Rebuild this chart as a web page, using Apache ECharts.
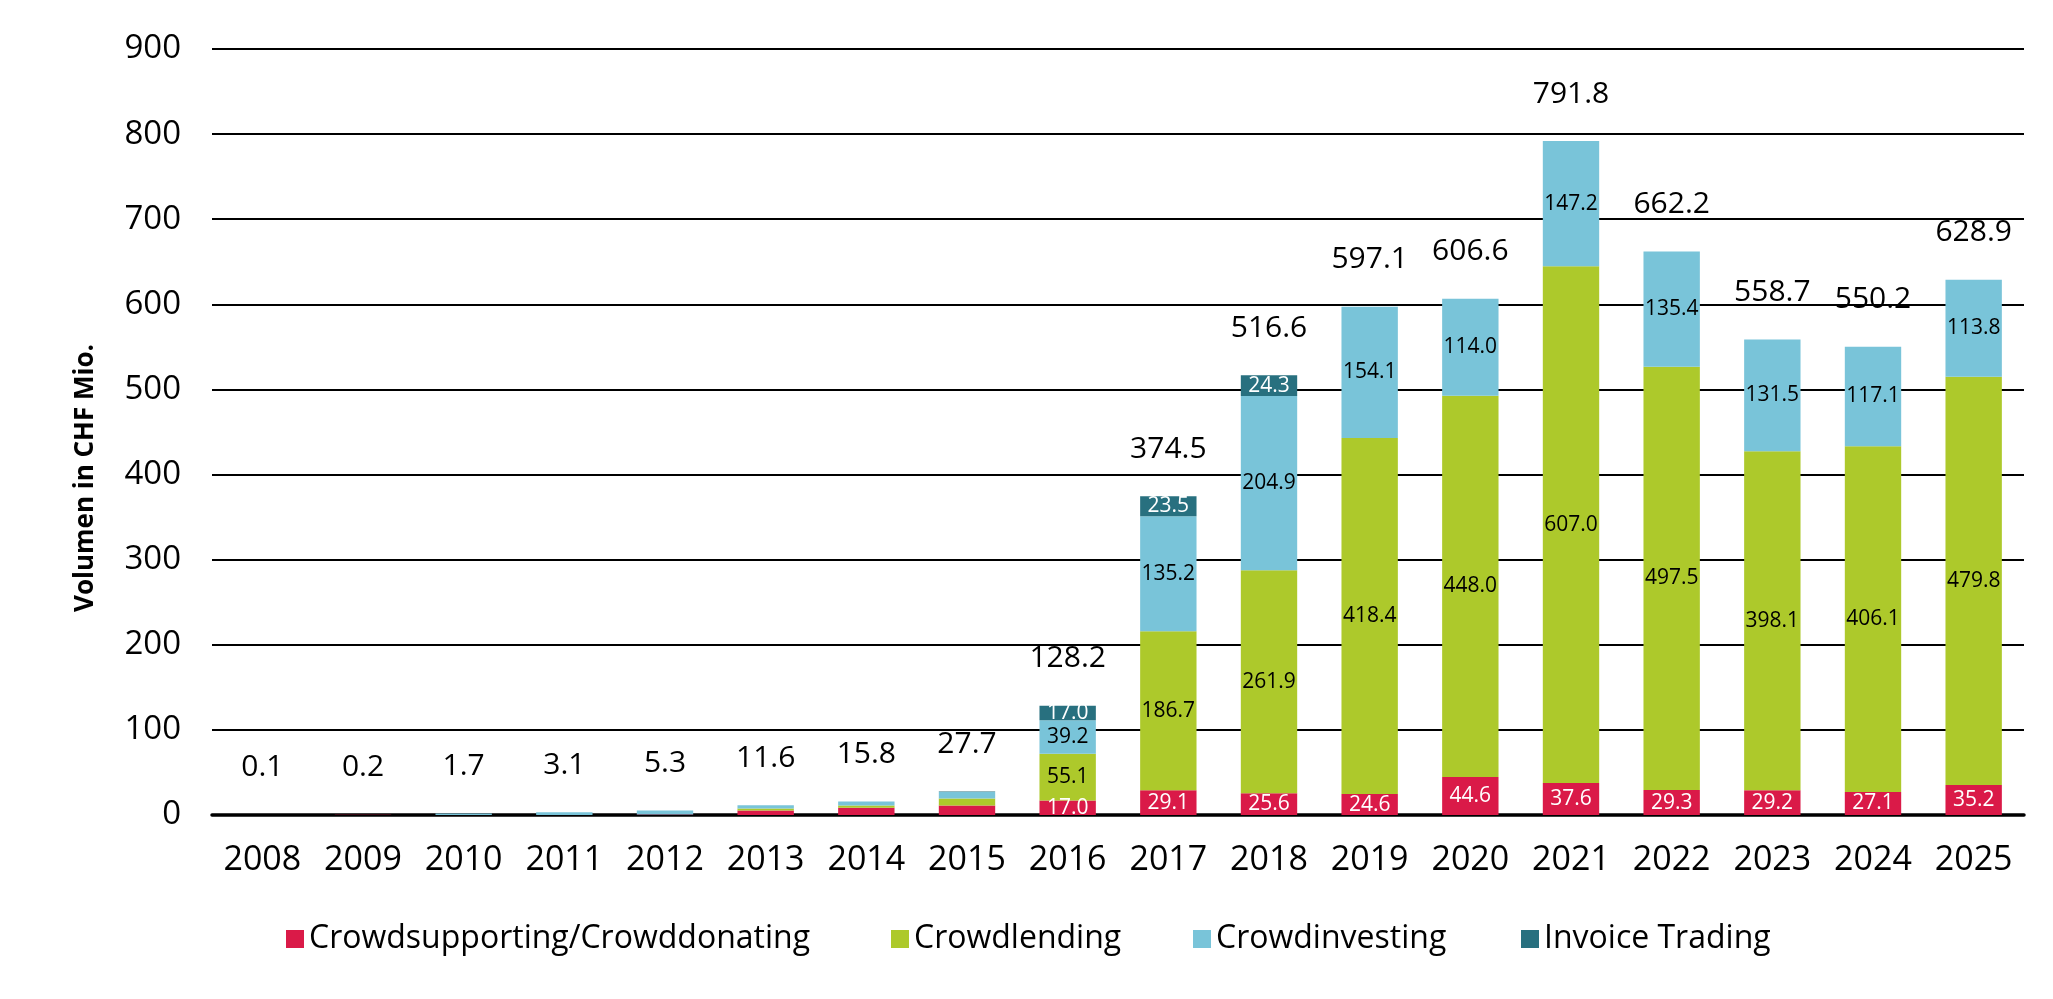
<!DOCTYPE html>
<html>
<head>
<meta charset="utf-8">
<script src="https://cdn.jsdelivr.net/npm/echarts@6/dist/echarts.min.js"></script>
<style>
html,body{margin:0;padding:0;background:#fff;}
#chart{width:2053px;height:999px;}
</style>
</head>
<body>
<div id="chart"></div>
<script>
const years = ['2008','2009','2010','2011','2012','2013','2014','2015','2016','2017','2018','2019','2020','2021','2022','2023','2024','2025'];
const crowdsupporting = [0.1, 0.2, 0, 0, 0.5, 5.2, 8.4, 11.2, 17.0, 29.1, 25.6, 24.6, 44.6, 37.6, 29.3, 29.2, 27.1, 35.2];
const crowdlending    = [0, 0, 0, 0, 0, 2.4, 2.8, 8.2, 55.1, 186.7, 261.9, 418.4, 448.0, 607.0, 497.5, 398.1, 406.1, 479.8];
const crowdinvesting  = [0, 0, 1.7, 3.1, 4.8, 4.0, 4.6, 7.6, 39.2, 135.2, 204.9, 154.1, 114.0, 147.2, 135.4, 131.5, 117.1, 113.8];
const invoiceTrading  = [0, 0, 0, 0, 0, 0, 0, 0.7, 17.0, 23.5, 24.3, 0, 0, 0, 0, 0, 0, 0];
const totals = [0.1, 0.2, 1.7, 3.1, 5.3, 11.6, 15.8, 27.7, 128.2, 374.5, 516.6, 597.1, 606.6, 791.8, 662.2, 558.7, 550.2, 628.9];
const seriesNames = ['Crowdsupporting/Crowddonating', 'Crowdlending', 'Crowdinvesting', 'Invoice Trading'];
const colors = ['#DA1A48', '#ADC92B', '#79C4D9', '#28707F'];
const labelColors = ['#fff', '#000', '#000', '#fff'];
const yTicks = [0, 100, 200, 300, 400, 500, 600, 700, 800, 900];
const yTitle = 'Volumen in CHF Mio.';

const FONT = 'Open Sans';
const chart = echarts.init(document.getElementById('chart'));
const seriesData = [crowdsupporting, crowdlending, crowdinvesting, invoiceTrading];

const series = seriesData.map((d, i) => ({
  name: seriesNames[i],
  type: 'bar',
  stack: 'total',
  barWidth: '56%',
  data: d,
  itemStyle: { color: colors[i] },
  label: {
    show: true,
    position: 'inside',
    color: labelColors[i],
    fontFamily: FONT,
    fontSize: 21,
    formatter: p => (p.value >= 15 ? p.value.toFixed(1) : '')
  },
  z: 3
}));
series.push({
  name: 'Total',
  type: 'bar',
  barWidth: '56%',
  barGap: '-100%',
  data: totals,
  itemStyle: { color: 'rgba(0,0,0,0)' },
  label: {
    show: true,
    position: 'top',
    distance: 32,
    color: '#000',
    fontFamily: FONT,
    fontSize: 30,
    formatter: p => p.value.toFixed(1)
  },
  silent: true,
  z: 2
});

const legendLefts = [281, 886, 1188, 1516];
const legends = seriesNames.map((n, i) => ({
  data: [n],
  left: legendLefts[i],
  top: 918,
  icon: 'rect',
  itemWidth: 18,
  itemHeight: 18,
  itemGap: 0,
  textStyle: { fontFamily: FONT, fontSize: 32, color: '#000' },
  selectedMode: false
}));

chart.setOption({
  animation: false,
  backgroundColor: '#fff',
  grid: { left: 212, right: 2053 - 2024, top: 49, bottom: 999 - 815, containLabel: false },
  legend: legends,
  graphic: [{
    type: 'text',
    x: 86,
    y: 478,
    rotation: Math.PI / 2,
    style: {
      text: yTitle,
      fontFamily: FONT,
      fontSize: 26,
      fontWeight: 'bold',
      fill: '#000',
      textAlign: 'center',
      textVerticalAlign: 'middle'
    }
  }],
  xAxis: {
    type: 'category',
    data: years,
    axisLine: { lineStyle: { color: '#000', width: 3.5 } },
    axisTick: { show: false },
    axisLabel: { fontFamily: FONT, fontSize: 34, color: '#000', margin: 28, interval: 0 }
  },
  yAxis: {
    type: 'value',
    min: yTicks[0],
    max: yTicks[yTicks.length - 1],
    interval: 100,
    axisLine: { show: false },
    axisTick: { show: false },
    axisLabel: { fontFamily: FONT, fontSize: 33, color: '#000', margin: 31 },
    splitLine: { lineStyle: { color: '#000', width: 2 } }
  },
  series: series
});
</script>
</body>
</html>
